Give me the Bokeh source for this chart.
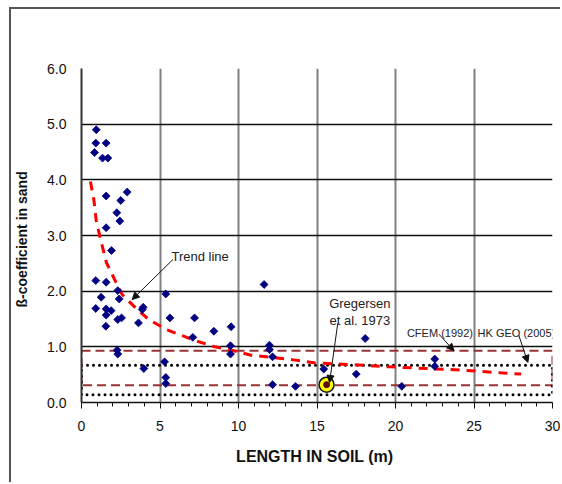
from bokeh.plotting import figure
from bokeh.models import Range1d, Label, Arrow, NormalHead, FixedTicker
from bokeh.embed import file_html
from bokeh.resources import INLINE

# ---- data ----
length_m = [0.94, 0.91, 1.57, 0.83, 1.34, 1.68, 2.91, 1.57, 2.50, 2.25, 2.44, 1.57,
            1.91, 0.91, 1.57, 2.31, 1.25, 2.40, 0.91, 1.57, 1.89, 1.57, 2.31, 2.55,
            1.55, 3.63, 3.93, 3.87, 5.37, 5.63, 7.20, 7.09, 8.43, 9.53, 9.49, 9.49,
            11.63, 11.97, 11.97, 12.17, 12.17, 13.63, 15.43, 17.50, 18.07, 20.40,
            22.50, 22.50, 2.27, 2.31, 3.97, 5.29, 5.37, 5.37]
beta = [4.90, 4.66, 4.66, 4.49, 4.39, 4.39, 3.78, 3.71, 3.63, 3.41, 3.26, 3.14,
        2.73, 2.19, 2.16, 2.01, 1.89, 1.86, 1.69, 1.68, 1.65, 1.57, 1.49, 1.52,
        1.37, 1.43, 1.71, 1.67, 1.95, 1.52, 1.52, 1.17, 1.28, 1.36, 1.02, 0.87,
        2.12, 1.03, 0.95, 0.82, 0.32, 0.29, 0.60, 0.51, 1.15, 0.29,
        0.78, 0.65, 0.94, 0.87, 0.61, 0.73, 0.45, 0.34]

trend_length = [0.57, 0.79, 0.94, 1.25, 1.59, 2.23, 2.59, 3.55, 4.29, 5.40, 6.62,
                7.37, 8.49, 9.70, 10.8, 13.4, 14.9, 17.3, 19.7, 22.0, 24.35, 26.9, 28.0]
trend_beta = [3.97, 3.64, 3.26, 2.89, 2.51, 2.14, 1.94, 1.67, 1.49, 1.31, 1.18,
              1.10, 1.00, 0.93, 0.85, 0.77, 0.71, 0.68, 0.64, 0.61, 0.58, 0.53, 0.51]

gregersen_length = [15.61]
gregersen_beta = [0.32]

cfem_range = [0.31, 0.93]     # CFEM (1992)
hkgeo_range = [0.14, 0.67]    # HK GEO (2005)

x_ticks = [0, 5, 10, 15, 20, 25, 30]
y_ticks = [0, 1, 2, 3, 4, 5, 6]
y_tick_labels = ["0.0", "1.0", "2.0", "3.0", "4.0", "5.0", "6.0"]

FONT = "Liberation Sans"

p = figure(width=551, height=475, x_range=Range1d(0, 30), y_range=Range1d(0, 6),
           output_backend="svg", toolbar_location=None,
           min_border_left=70, min_border_right=10, min_border_top=59, min_border_bottom=82)
p.margin = (7, 0, 0, 9)
p.styles = {"border-top": "2px solid #555555", "border-left": "2px solid #555555"}
p.background_fill_color = "white"
p.border_fill_color = "white"
p.outline_line_color = None

# grids
p.xgrid.ticker = FixedTicker(ticks=[5, 10, 15, 20, 25, 30])
p.xgrid.grid_line_color = "#808080"
p.xgrid.grid_line_width = 2
p.ygrid.ticker = FixedTicker(ticks=[1, 2, 3, 4, 5, 6])
p.ygrid.grid_line_color = "#111111"
p.ygrid.grid_line_width = 1.3

# axes
p.xaxis.ticker = FixedTicker(ticks=x_ticks, minor_ticks=list(range(0, 31)))
p.xaxis.axis_line_color = "#111111"
p.xaxis.axis_line_width = 1.5
p.xaxis.major_tick_out = 6
p.xaxis.major_tick_in = 0
p.xaxis.minor_tick_out = 4
p.xaxis.minor_tick_in = 0
p.xaxis.major_tick_line_color = "#111111"
p.xaxis.minor_tick_line_color = "#111111"
p.xaxis.major_label_text_font = FONT
p.xaxis.major_label_text_font_size = "14px"
p.xaxis.major_label_text_color = "#111111"
p.xaxis.major_label_standoff = 12
p.xaxis.axis_label = "LENGTH IN SOIL  (m)"
p.xaxis.axis_label_text_font = FONT
p.xaxis.axis_label_text_font_style = "bold"
p.xaxis.axis_label_text_font_size = "16px"
p.xaxis.axis_label_text_color = "#111111"
p.xaxis.axis_label_standoff = 14

p.yaxis.ticker = FixedTicker(ticks=y_ticks)
p.yaxis.major_label_overrides = {t: s for t, s in zip(y_ticks, y_tick_labels)}
p.yaxis.axis_line_color = "#333333"
p.yaxis.axis_line_width = 2
p.yaxis.major_tick_out = 0
p.yaxis.major_tick_in = 0
p.yaxis.minor_tick_line_color = None
p.yaxis.major_label_text_font = FONT
p.yaxis.major_label_text_font_size = "14px"
p.yaxis.major_label_text_color = "#111111"
p.yaxis.major_label_standoff = 15
p.yaxis.axis_label = "ß-coefficient  in  sand"
p.yaxis.axis_label_text_font = FONT
p.yaxis.axis_label_text_font_style = "bold"
p.yaxis.axis_label_text_font_size = "14px"
p.yaxis.axis_label_text_color = "#111111"
p.yaxis.axis_label_standoff = 14

# design ranges
p.quad(left=[0], right=[30], bottom=[cfem_range[0]], top=[cfem_range[1]],
       fill_alpha=0, line_color="#993333", line_width=2, line_dash="9 5")
p.quad(left=[0], right=[30], bottom=[hkgeo_range[0]], top=[hkgeo_range[1]],
       fill_alpha=0, line_color="#000000", line_width=3, line_dash="0 6", line_cap="round")

# trend line
p.line(trend_length, trend_beta, line_color="#ff0000", line_width=3, line_dash="9 7")

# data points
p.scatter(length_m, beta, marker="square", angle=0.785398, size=5.6,
          fill_color="#000080", line_color="#000080", line_width=0.8)

# Gregersen point
p.scatter(gregersen_length, gregersen_beta, marker="circle", size=15,
          fill_color="#ffff00", line_color="#111111", line_width=1.5)
p.scatter(gregersen_length, gregersen_beta, marker="circle", size=6,
          fill_color="#5a0f0f", line_color="#5a0f0f")

# annotations
def lab(x, y, t, size, align="left"):
    p.add_layout(Label(x=x, y=y, text=t, text_font=FONT, text_font_size=size,
                       text_color="#222222", text_baseline="middle", text_align=align))

def arr(x0, y0, x1, y1):
    p.add_layout(Arrow(end=NormalHead(size=7, fill_color="#111111", line_color="#111111"),
                       x_start=x0, y_start=y0, x_end=x1, y_end=y1,
                       line_color="#111111", line_width=1))

lab(5.73, 2.63, "Trend line", "13px")
arr(5.83, 2.57, 3.23, 1.85)

lab(17.73, 1.78, "Gregersen", "13px", "center")
lab(17.73, 1.48, "et al. 1973", "13px", "center")
arr(16.32, 1.42, 15.80, 0.36)

lab(22.83, 1.25, "CFEM (1992)", "11px", "center")
arr(22.76, 1.23, 23.72, 0.93)

lab(27.70, 1.25, "HK GEO (2005)", "11px", "center")
arr(27.85, 1.21, 28.43, 0.72)

open("out.html", "w").write(file_html(p, INLINE))
